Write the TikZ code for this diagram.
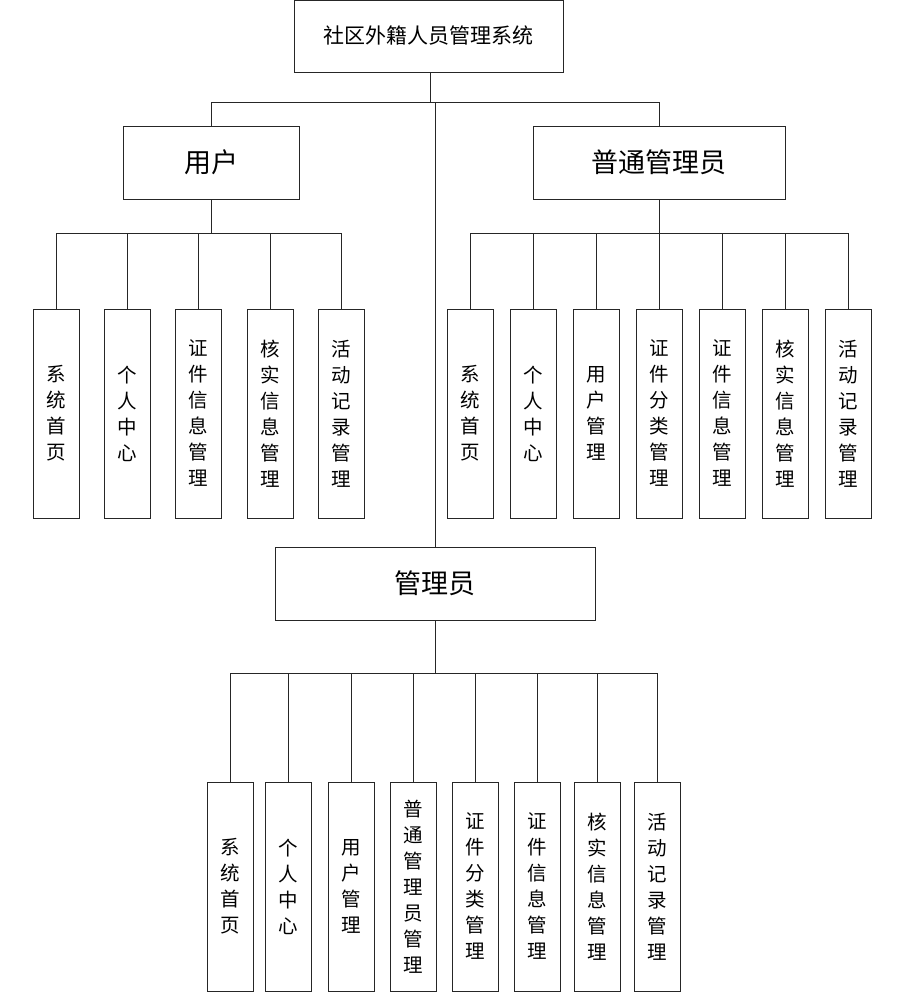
\documentclass[tikz,border=0pt]{standalone}
\usepackage{fontspec}
\setmainfont{Noto Sans CJK SC}
\begin{document}
\begin{tikzpicture}[x=1pt,y=-1pt,
  box/.style={draw=black!85,line width=0.9pt,inner sep=0pt,align=center,fill=white},
  leaf/.style={box,minimum width=46pt,minimum height=209pt,font=\fontsize{19.5}{26}\selectfont},
  mid/.style={box,minimum height=73pt,font=\fontsize{27}{30}\selectfont},
  conn/.style={draw=black!85,line width=0.8pt}]
\useasboundingbox (0,0) rectangle (902,1001);
% level 0
\node[box,minimum width=269pt,minimum height=72pt,font=\fontsize{21}{24}\selectfont] (top) at (428.5,36) {社区外籍人员管理系统};
% level 1
\node[mid,minimum width=176pt] (user) at (211,162.5) {用户};
\node[mid,minimum width=252pt] (pm) at (659,162.5) {普通管理员};
\node[mid,minimum width=320pt] (adm) at (435,583.5) {管理员};
% user leaves
\node[leaf] (u1) at (56,413.5) {系\\统\\首\\页};
\node[leaf] (u2) at (127.5,413.5) {个\\人\\中\\心};
\node[leaf] (u3) at (198.5,413.5) {证\\件\\信\\息\\管\\理};
\node[leaf] (u4) at (270.5,413.5) {核\\实\\信\\息\\管\\理};
\node[leaf] (u5) at (341.5,413.5) {活\\动\\记\\录\\管\\理};
% pm leaves
\node[leaf] (p1) at (470,413.5) {系\\统\\首\\页};
\node[leaf] (p2) at (533,413.5) {个\\人\\中\\心};
\node[leaf] (p3) at (596,413.5) {用\\户\\管\\理};
\node[leaf] (p4) at (659,413.5) {证\\件\\分\\类\\管\\理};
\node[leaf] (p5) at (722,413.5) {证\\件\\信\\息\\管\\理};
\node[leaf] (p6) at (785,413.5) {核\\实\\信\\息\\管\\理};
\node[leaf] (p7) at (848,413.5) {活\\动\\记\\录\\管\\理};
% admin leaves
\node[leaf] (a1) at (230,886.5) {系\\统\\首\\页};
\node[leaf] (a2) at (288.5,886.5) {个\\人\\中\\心};
\node[leaf] (a3) at (351,886.5) {用\\户\\管\\理};
\node[leaf] (a4) at (413,886.5) {普\\通\\管\\理\\员\\管\\理};
\node[leaf] (a5) at (475,886.5) {证\\件\\分\\类\\管\\理};
\node[leaf] (a6) at (537.5,886.5) {证\\件\\信\\息\\管\\理};
\node[leaf] (a7) at (597,886.5) {核\\实\\信\\息\\管\\理};
\node[leaf] (a8) at (657,886.5) {活\\动\\记\\录\\管\\理};
% connectors level 0 -> 1
\coordinate (j0) at (430,102);
\draw[conn] (top.south -| j0) -- (j0);
\draw[conn] (user.north) -- (user.north |- j0) -- (pm.north |- j0) -- (pm.north);
\draw[conn] (j0 -| adm.north) -- (adm.north);
% user
\coordinate (ju) at (211,233);
\draw[conn] (user.south) -- (ju);
\draw[conn] (u1.north) -- (u1.north |- ju) -- (u5.north |- ju) -- (u5.north);
\foreach \i in {2,3,4} \draw[conn] (u\i.north) -- (u\i.north |- ju);
% pm
\coordinate (jp) at (659,233);
\draw[conn] (pm.south) -- (jp);
\draw[conn] (p1.north) -- (p1.north |- jp) -- (p7.north |- jp) -- (p7.north);
\foreach \i in {2,...,6} \draw[conn] (p\i.north) -- (p\i.north |- jp);
% admin
\coordinate (ja) at (435,673);
\draw[conn] (adm.south) -- (ja);
\draw[conn] (a1.north) -- (a1.north |- ja) -- (a8.north |- ja) -- (a8.north);
\foreach \i in {2,...,7} \draw[conn] (a\i.north) -- (a\i.north |- ja);
\end{tikzpicture}
\end{document}
